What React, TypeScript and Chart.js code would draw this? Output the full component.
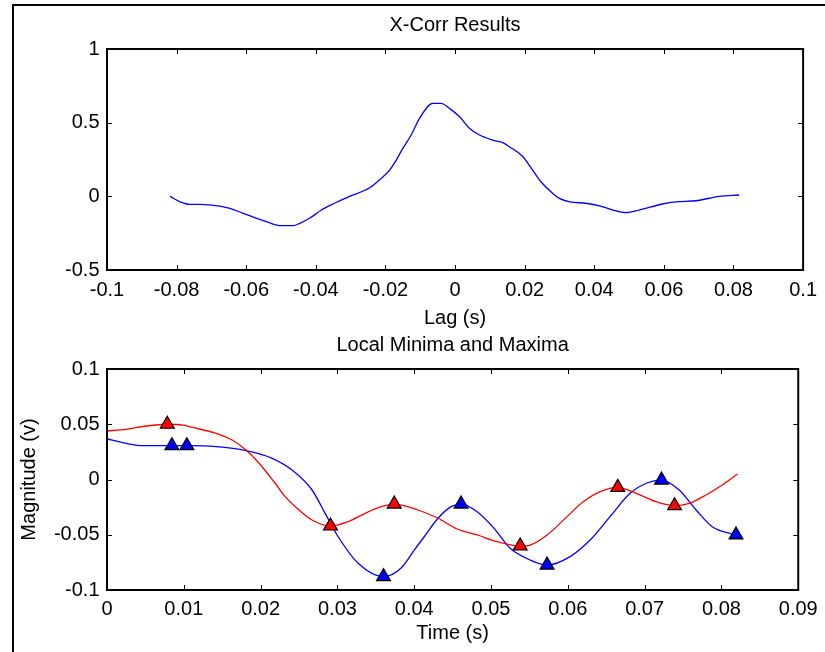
import React, { useEffect, useRef } from "react";
import { Chart, registerables } from "chart.js";

Chart.register(...registerables);

// ---- Top plot: cross-correlation ----
const lagX = [-0.0819, -0.079, -0.0762, -0.0733, -0.0676, -0.0647, -0.0609, -0.0542, -0.0499, -0.0465, -0.0446, -0.0418, -0.0384, -0.0351, -0.0303, -0.0245, -0.0212, -0.0188, -0.0169, -0.015, -0.0126, -0.0102, -0.0064, -0.004, -0.0016, 0.0013, 0.0042, 0.007, 0.0108, 0.0137, 0.0156, 0.0195, 0.0223, 0.0247, 0.0281, 0.03, 0.0329, 0.0376, 0.0415, 0.0453, 0.0491, 0.0529, 0.0596, 0.0635, 0.0692, 0.0759, 0.0816];
const xcorrY = [0.0, -0.037, -0.054, -0.054, -0.066, -0.082, -0.115, -0.172, -0.199, -0.199, -0.183, -0.149, -0.093, -0.052, 0.0, 0.058, 0.122, 0.178, 0.246, 0.326, 0.416, 0.529, 0.631, 0.631, 0.597, 0.54, 0.461, 0.416, 0.382, 0.364, 0.337, 0.269, 0.178, 0.099, 0.02, -0.014, -0.037, -0.047, -0.064, -0.093, -0.111, -0.093, -0.052, -0.037, -0.03, 0.0, 0.009];
const lagTicks = [-0.1, -0.08, -0.06, -0.04, -0.02, 0, 0.02, 0.04, 0.06, 0.08, 0.1];
const xcorrTicks = [-0.5, 0, 0.5, 1];

// ---- Bottom plot: local minima / maxima ----
const redX = [0, 0.0025, 0.0051, 0.00785, 0.0099, 0.012, 0.0142, 0.0163, 0.0181, 0.0198, 0.0219, 0.0232, 0.025, 0.0267, 0.0291, 0.0314, 0.0336, 0.0357, 0.0374, 0.0405, 0.0431, 0.0456, 0.0482, 0.0508, 0.0538, 0.0551, 0.0573, 0.0599, 0.062, 0.0642, 0.0665, 0.0689, 0.0715, 0.0739, 0.0758, 0.078, 0.0801, 0.0821];
const redY = [0.0439, 0.0454, 0.0484, 0.05, 0.0493, 0.0457, 0.0418, 0.0357, 0.0267, 0.0147, -0.0034, -0.0155, -0.0276, -0.0367, -0.0421, -0.0382, -0.0306, -0.0246, -0.0222, -0.0276, -0.0351, -0.0448, -0.0502, -0.0563, -0.0602, -0.0593, -0.0502, -0.0336, -0.0201, -0.011, -0.0071, -0.0125, -0.0201, -0.0237, -0.0216, -0.014, -0.005, 0.005];
const blueX = [0, 0.0025, 0.0047, 0.00845, 0.0104, 0.0142, 0.0181, 0.0215, 0.0241, 0.0267, 0.0284, 0.0301, 0.0327, 0.036, 0.0383, 0.04, 0.0413, 0.0431, 0.0448, 0.0461, 0.0482, 0.0504, 0.0525, 0.0551, 0.0573, 0.0603, 0.0629, 0.0655, 0.0681, 0.0702, 0.0722, 0.0745, 0.0767, 0.0788, 0.0819];
const blueY = [0.0369, 0.0327, 0.0306, 0.0306, 0.0306, 0.0297, 0.0261, 0.0192, 0.0086, -0.0095, -0.0306, -0.0518, -0.0758, -0.0879, -0.08, -0.064, -0.0518, -0.0351, -0.0246, -0.0222, -0.0291, -0.0442, -0.0623, -0.0729, -0.0774, -0.0698, -0.0548, -0.0336, -0.0125, -0.0034, -0.0005, -0.0095, -0.0276, -0.0427, -0.0502];
const redMarkX = [0.00785, 0.0291, 0.0374, 0.0538, 0.0665, 0.0739];
const redMarkY = [0.05, -0.0421, -0.0222, -0.0602, -0.0071, -0.0237];
const blueMarkX = [0.00845, 0.0104, 0.036, 0.0461, 0.0573, 0.0722, 0.0819];
const blueMarkY = [0.0306, 0.0306, -0.0879, -0.0222, -0.0774, -0.0005, -0.0502];
const timeTicks = [0, 0.01, 0.02, 0.03, 0.04, 0.05, 0.06, 0.07, 0.08, 0.09];
const magTicks = [-0.1, -0.05, 0, 0.05, 0.1];

const FONT = "'Liberation Sans', Arial, sans-serif";
const FS = 20;
const pts = (xs: number[], ys: number[]) => xs.map((x, i) => ({ x, y: ys[i] }));
const fmt = (v: number) => String(Number(Number(v).toFixed(4)));

const frameTicks = {
  id: "frameTicks",
  afterDraw(chart: any) {
    const { ctx, chartArea: a, scales } = chart;
    const L = 5;
    ctx.save();
    ctx.strokeStyle = "#000";
    ctx.lineWidth = 1;
    ctx.beginPath();
    scales.x.ticks.forEach((t: any) => {
      const px = Math.round(scales.x.getPixelForValue(t.value)) + 0.5;
      ctx.moveTo(px, a.bottom);
      ctx.lineTo(px, a.bottom - L);
      ctx.moveTo(px, a.top);
      ctx.lineTo(px, a.top + L);
    });
    scales.y.ticks.forEach((t: any) => {
      const py = Math.round(scales.y.getPixelForValue(t.value)) + 0.5;
      ctx.moveTo(a.left, py);
      ctx.lineTo(a.left + L, py);
      ctx.moveTo(a.right, py);
      ctx.lineTo(a.right - L, py);
    });
    ctx.stroke();
    ctx.lineWidth = 2;
    ctx.strokeRect(a.left, a.top, a.right - a.left, a.bottom - a.top);
    ctx.restore();
  },
};

function makeScales(opts: {
  xMin: number; xMax: number; xTicks: number[]; xTitle: string; xTitlePad: number; xHeight: number; xTickPad: number;
  yMin: number; yMax: number; yTicks: number[]; yTitle?: string; yTitlePad?: number;
}) {
  return {
    x: {
      type: "linear",
      min: opts.xMin,
      max: opts.xMax,
      afterBuildTicks: (s: any) => { s.ticks = opts.xTicks.map((v) => ({ value: v })); },
      afterFit: (s: any) => { s.height = opts.xHeight; },
      grid: { display: false, drawTicks: false },
      border: { display: false },
      ticks: { color: "#000", font: { size: FS, family: FONT }, padding: opts.xTickPad, maxRotation: 0, autoSkip: false, callback: (v: any) => fmt(v) },
      title: { display: true, text: opts.xTitle, color: "#000", font: { size: FS, family: FONT }, padding: { top: 0, bottom: opts.xTitlePad } },
    },
    y: {
      type: "linear",
      min: opts.yMin,
      max: opts.yMax,
      afterBuildTicks: (s: any) => { s.ticks = opts.yTicks.map((v) => ({ value: v })); },
      afterFit: (s: any) => { s.width = 107; },
      grid: { display: false, drawTicks: false },
      border: { display: false },
      ticks: { color: "#000", font: { size: FS, family: FONT }, padding: 7.5, autoSkip: false, callback: (v: any) => fmt(v) },
      title: { display: !!opts.yTitle, text: opts.yTitle || "", color: "#000", font: { size: FS, family: FONT }, padding: { top: opts.yTitlePad || 0, bottom: 0 } },
    },
  };
}

export default function App() {
  const topRef = useRef<HTMLCanvasElement>(null);
  const botRef = useRef<HTMLCanvasElement>(null);

  useEffect(() => {
    const top = new Chart(topRef.current as HTMLCanvasElement, {
      type: "line",
      data: {
        datasets: [
          { data: pts(lagX, xcorrY), borderColor: "#0000ff", borderWidth: 1.3, pointRadius: 0, cubicInterpolationMode: "monotone", fill: false },
        ],
      },
      options: {
        responsive: false,
        animation: false,
        layout: { padding: { left: 0, right: 21, top: 0, bottom: 0 } },
        plugins: {
          legend: { display: false },
          tooltip: { enabled: false },
          title: { display: true, fullSize: false, text: "X-Corr Results", color: "#000", font: { size: FS, family: FONT, weight: "normal" }, padding: { top: 13.8, bottom: 11.2 } },
        },
        scales: makeScales({ xMin: -0.1, xMax: 0.1, xTicks: lagTicks, xTitle: "Lag (s)", xTitlePad: 0, xHeight: 60, xTickPad: 8, yMin: -0.5, yMax: 1, yTicks: xcorrTicks }) as any,
      },
      plugins: [frameTicks],
    } as any);

    const markerStyle = { showLine: false, pointStyle: "triangle", pointRadius: 8, pointBorderColor: "#000", pointBorderWidth: 1.2, order: 0 };
    const bot = new Chart(botRef.current as HTMLCanvasElement, {
      type: "line",
      data: {
        datasets: [
          { ...markerStyle, data: pts(redMarkX, redMarkY), pointBackgroundColor: "#ff0000", borderColor: "#ff0000" },
          { ...markerStyle, data: pts(blueMarkX, blueMarkY), pointBackgroundColor: "#0000ff", borderColor: "#0000ff" },
          { data: pts(redX, redY), borderColor: "#ff0000", borderWidth: 1.3, pointRadius: 0, cubicInterpolationMode: "monotone", fill: false, order: 1 },
          { data: pts(blueX, blueY), borderColor: "#0000ff", borderWidth: 1.3, pointRadius: 0, cubicInterpolationMode: "monotone", fill: false, order: 1 },
        ],
      },
      options: {
        responsive: false,
        animation: false,
        layout: { padding: { left: 0, right: 22, top: 0, bottom: 0 } },
        plugins: {
          legend: { display: false },
          tooltip: { enabled: false },
          title: { display: true, fullSize: false, text: "Local Minima and Maxima", color: "#000", font: { size: FS, family: FONT, weight: "normal" }, padding: { top: 3, bottom: 12 } },
        },
        scales: makeScales({ xMin: 0, xMax: 0.09, xTicks: timeTicks, xTitle: "Time (s)", xTitlePad: 6.2, xHeight: 62, xTickPad: 7.3, yMin: -0.1, yMax: 0.1, yTicks: magTicks, yTitle: "Magnitude (v)", yTitlePad: 17 }) as any,
      },
      plugins: [frameTicks],
    } as any);

    return () => {
      top.destroy();
      bot.destroy();
    };
  }, []);

  return (
    <div style={{ position: "absolute", left: 0, top: 0, width: 825, height: 652, overflow: "hidden", background: "#fff" }}>
      <div style={{ position: "absolute", left: 12, top: 4, width: 900, height: 800, border: "2px solid #000" }} />
      <canvas ref={topRef} width={825} height={330} style={{ position: "absolute", left: 0, top: 0 }} />
      <canvas ref={botRef} width={825} height={322} style={{ position: "absolute", left: 0, top: 330 }} />
    </div>
  );
}
